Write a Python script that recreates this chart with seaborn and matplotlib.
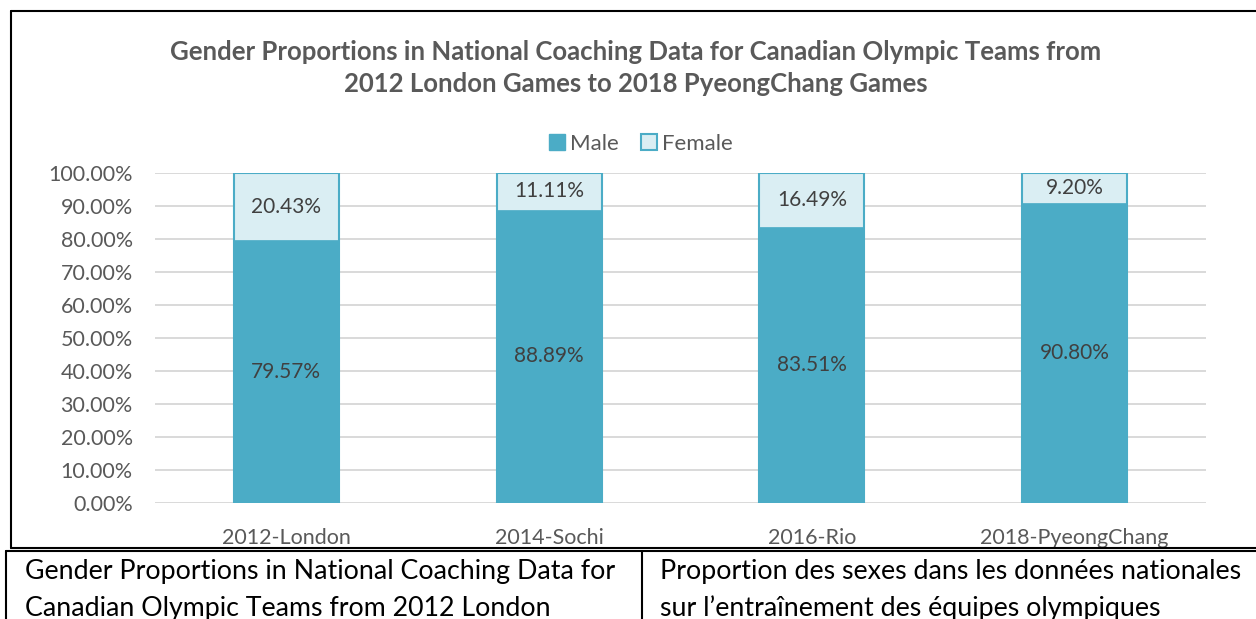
import numpy as np
import pandas as pd
import seaborn as sns
import matplotlib.pyplot as plt
from matplotlib.patches import Patch
from matplotlib.lines import Line2D

# data
games = ['2012-London', '2014-Sochi', '2016-Rio', '2018-PyeongChang']
male = [79.57, 88.89, 83.51, 90.80]
female = [20.43, 11.11, 16.49, 9.20]
y_ticks = [0, 10, 20, 30, 40, 50, 60, 70, 80, 90, 100]

title = ('Gender Proportions in National Coaching Data for Canadian Olympic Teams from\n'
         '2012 London Games to 2018 PyeongChang Games')
caption_en = 'Gender Proportions in National Coaching Data for\nCanadian Olympic Teams from 2012 London'
caption_fr = 'Proportion des sexes dans les données nationales\nsur l’entraînement des équipes olympiques'

blue = '#4BACC6'
light = '#DAEEF3'
grey = '#595959'

df = pd.DataFrame({'games': games, 'male': male, 'female': female})
df['total'] = df['male'] + df['female']

sns.set_style('white')
plt.rcParams['font.family'] = ['Lato', 'DejaVu Sans']

W, H = 1256, 619
fig = plt.figure(figsize=(W / 100, H / 100), dpi=100)

def fx(x):
    return x / W

def fy(y):
    return 1 - y / H

ax = fig.add_axes([fx(155), fy(503), (1206 - 155) / W, (503 - 173) / H])

# female bar drawn as full stack, male drawn over it
sns.barplot(data=df, x='games', y='total', color=light, edgecolor=blue, linewidth=1.5,
            width=0.4, saturation=1, ax=ax)
sns.barplot(data=df, x='games', y='male', color=blue, edgecolor=blue, linewidth=0.5,
            width=0.4, saturation=1, ax=ax)

for i in range(len(games)):
    ax.text(i, male[i] / 2, f'{male[i]:.2f}%', ha='center', va='center',
            fontsize=15, color='#404040')
    ax.text(i, male[i] + female[i] / 2, f'{female[i]:.2f}%', ha='center', va='center',
            fontsize=15, color='#404040')

ax.set_ylim(0, 100)
ax.set_xlim(-0.5, 3.5)
ax.set_yticks(y_ticks)
ax.set_yticklabels([f'{v:.2f}%' for v in y_ticks])
ax.yaxis.grid(True, color='#d9d9d9', lw=1.4)
ax.set_axisbelow(True)
for s in ax.spines.values():
    s.set_visible(False)
ax.tick_params(axis='both', length=0, labelsize=15.5, labelcolor=grey)
ax.tick_params(axis='x', pad=18)
ax.tick_params(axis='y', pad=16)
ax.set_xlabel('')
ax.set_ylabel('')

handles = [Patch(facecolor=blue, edgecolor=blue, label='Male'),
           Patch(facecolor=light, edgecolor=blue, lw=1.5, label='Female')]
leg = fig.legend(handles=handles, loc='center', bbox_to_anchor=(fx(641), fy(144)), ncol=2,
                 frameon=False, fontsize=16, handlelength=0.7, handleheight=0.7,
                 handletextpad=0.25, columnspacing=1.0)
for t in leg.get_texts():
    t.set_color(grey)

fig.text(fx(636), fy(68), title, ha='center', va='center', fontsize=18.5,
         fontweight='bold', color=grey, linespacing=1.45)

# caption table underneath
fig.text(fx(25), fy(590), caption_en, ha='left', va='center', fontsize=19.3,
         color='black', linespacing=1.57)
fig.text(fx(660), fy(590), caption_fr, ha='left', va='center', fontsize=19.3,
         color='black', linespacing=1.57)

# borders of the chart box and the table
lines = [((11, 1256), (11, 11)), ((11, 11), (11, 548)), ((11, 1256), (548, 548)),
         ((6, 1256), (551, 551)), ((6, 6), (551, 619)), ((642, 642), (551, 619))]
for xs, ys in lines:
    fig.add_artist(Line2D([fx(x) for x in xs], [fy(y) for y in ys], color='black', lw=1.5))

fig.savefig('out.png', dpi=100)
